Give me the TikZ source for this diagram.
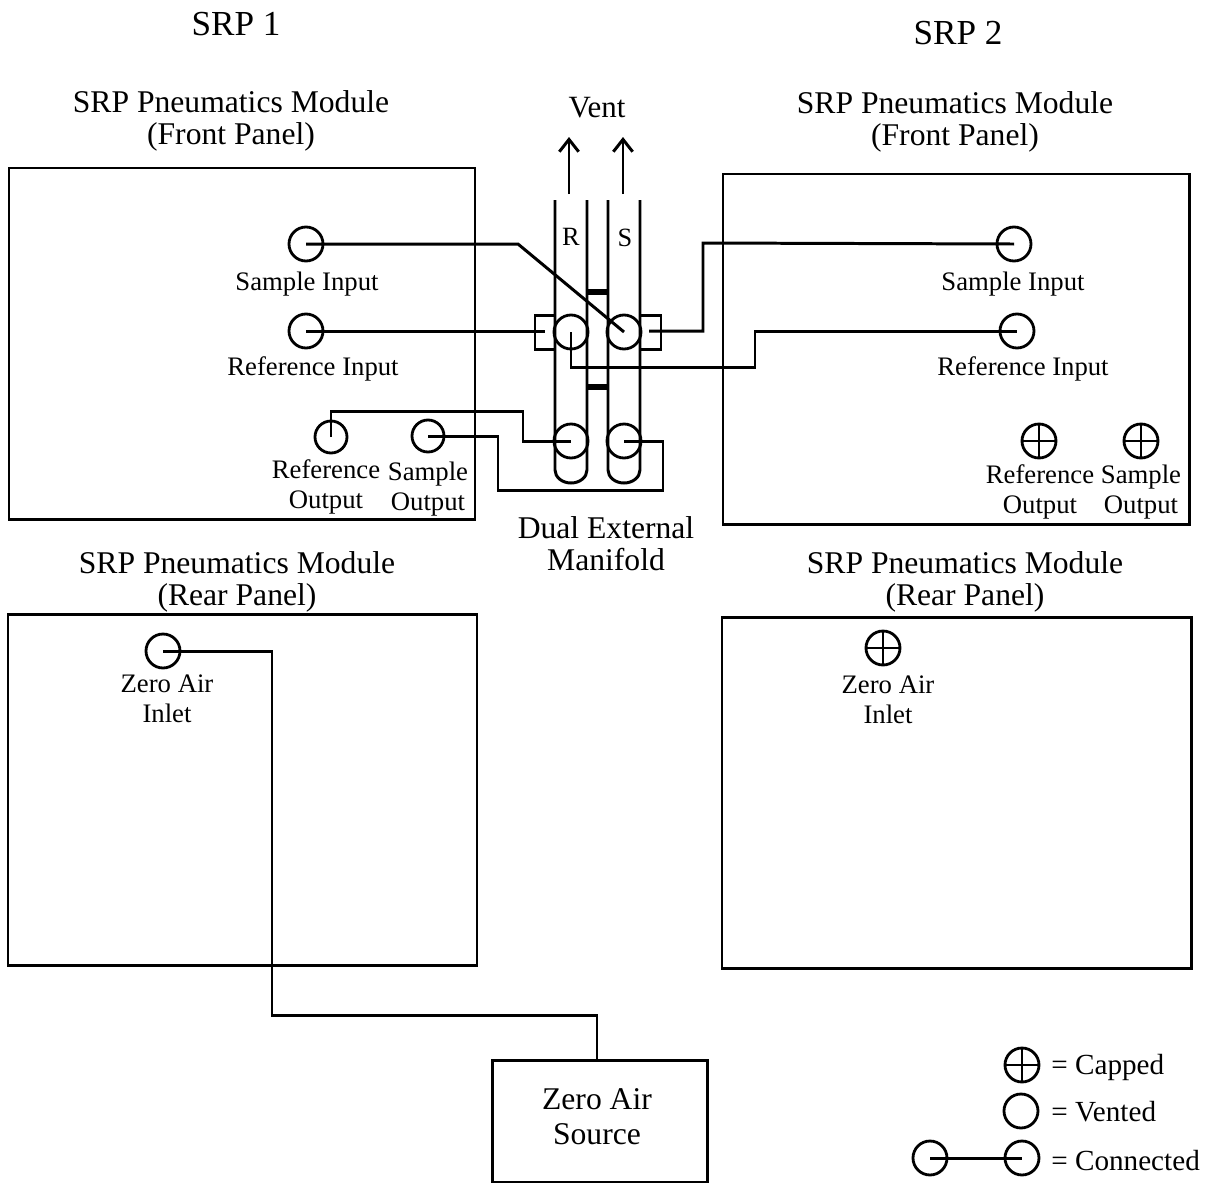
\documentclass[tikz,border=0pt]{standalone}
\usepackage{fontspec}
\setmainfont{Liberation Serif}
\usepackage{tikz}
\usetikzlibrary{arrows.meta}
\tikzset{
    linea/.style={line width=1.7pt, color=black},
    tubo/.style={linea, line join=miter},
    port/.style={circle, draw, line width=1.6pt, minimum size=0.68cm, inner sep=0pt},
    capped/.style={port, path picture={
        \draw[line width=1.6pt] (path picture bounding box.north) -- (path picture bounding box.south);
        \draw[line width=1.6pt] (path picture bounding box.west) -- (path picture bounding box.east);}},
    titolo/.style={align=center, font=\fontsize{18}{18.2}\selectfont, inner sep=0pt},
    grande/.style={align=center, font=\fontsize{20}{22}\selectfont, inner sep=0pt},
    piccolo/.style={align=center, font=\fontsize{15.2}{16.8}\selectfont, inner sep=0pt},
    legenda/.style={anchor=west, font=\fontsize{16.6}{18}\selectfont, inner sep=0pt},
}
\begin{document}
\begin{tikzpicture}[x=0.02cm, y=-0.02cm]
        \useasboundingbox (0,0) rectangle (1205,1184);
        % Pannelli
        \foreach \xa/\ya/\xb/\yb in {9/168/475/519, 723/174/1189/524, 8/614/477/965, 722/617/1191/968} {
                \draw[linea] (\xa,\ya) rectangle (\xb,\yb);
            }
        % Titoli
        \node[grande] (srpuno) at (236,24) {SRP 1};
        \node[grande] (srpdue) at (958,33) {SRP 2};
        \node[titolo] (frontuno) at (231,121) {SRP Pneumatics Module\\(Front Panel)};
        \node[titolo] (frontdue) at (955,122) {SRP Pneumatics Module\\(Front Panel)};
        \node[titolo] (rearuno) at (237,582) {SRP Pneumatics Module\\(Rear Panel)};
        \node[titolo] (reardue) at (965,582) {SRP Pneumatics Module\\(Rear Panel)};
        % Manifold: tubi R e S
        \foreach \xa in {555,608} {
                \draw[tubo] (\xa,200) -- (\xa,470) arc[start angle=180, end angle=0, x radius=16, y radius=13] -- (\xa+32,200);
            }
        \draw[line width=3pt] (587,292) -- (608,292);
        \draw[line width=3pt] (587,387) -- (608,387);
        \draw[linea] (555,315) -- (535,315) -- (535,349) -- (555,349);
        \draw[linea] (640,315) -- (661,315) -- (661,349) -- (640,349);
        \node[port] (manrin) at (571,332) {};
        \node[port] (mansin) at (624,332) {};
        \node[port] (manrout) at (571,441) {};
        \node[port] (mansout) at (624,441) {};
        \node[font=\fontsize{15}{16}\selectfont, inner sep=0pt] (tuboR) at (571,237) {R};
        \node[font=\fontsize{15}{16}\selectfont, inner sep=0pt] (tuboS) at (625,238) {S};
        \node[titolo] (manifold) at (606,544) {Dual External\\Manifold};
        \node[font=\fontsize{17.6}{18}\selectfont, inner sep=0pt] (vent) at (597,108) {Vent};
        % Uscite del vent
        \coordinate (ventRa) at (569,194);
        \coordinate (ventRb) at (569,137);
        \coordinate (ventSa) at (623,194);
        \coordinate (ventSb) at (623,137);
        \draw[linea, -{Straight Barb[length=7pt, width=11pt]}] (ventRa) -- (ventRb);
        \draw[linea, -{Straight Barb[length=7pt, width=11pt]}] (ventSa) -- (ventSb);
        % SRP 1, pannello frontale
        \node[port] (sinuno) at (306,244) {};
        \node[port] (rinuno) at (306,331) {};
        \node[port, minimum size=0.64cm] (routuno) at (331,437) {};
        \node[port, minimum size=0.64cm] (soutuno) at (428,436) {};
        \node[piccolo] (lsinuno) at (307,284) {Sample Input};
        \node[piccolo] (lrinuno) at (313,369) {Reference Input};
        \node[piccolo] (lroutuno) at (326,487) {Reference\\Output};
        \node[piccolo] (lsoutuno) at (428,489) {Sample\\Output};
        % SRP 2, pannello frontale
        \node[port] (sindue) at (1014,244) {};
        \node[port] (rindue) at (1017,331) {};
        \node[capped] (routdue) at (1039,441) {};
        \node[capped] (soutdue) at (1141,441) {};
        \node[piccolo] (lsindue) at (1013,284) {Sample Input};
        \node[piccolo] (lrindue) at (1023,369) {Reference Input};
        \node[piccolo] (lroutdue) at (1040,492) {Reference\\Output};
        \node[piccolo] (lsoutdue) at (1141,492) {Sample\\Output};
        % Pannelli posteriori
        \node[port] (zerouno) at (163,651) {};
        \node[capped] (zerodue) at (883,648) {};
        \node[piccolo] (lzerouno) at (167,699) {Zero Air\\Inlet};
        \node[piccolo] (lzerodue) at (888,700) {Zero Air\\Inlet};
        % Sorgente
        \node[draw, linea, minimum width=4.32cm, minimum height=2.44cm, inner sep=0pt] (source) at (600,1121) {};
        \node[align=center, font=\fontsize{18}{20}\selectfont, inner sep=0pt] (tsource) at (597,1117) {Zero Air\\Source};
        % Collegamenti
        \coordinate (rcollare) at (545,331);
        \coordinate (scollare) at (649,331);
        \draw[linea] (sinuno.center) -- (518,244) -- (mansin.center);
        \draw[linea] (rinuno.center) -- (rcollare);
        \draw[linea] (scollare) -- (703,331) -- (703,243) -- (sindue.center);
        \draw[linea] (manrin.center) -- (571,367) -- (755,367) -- (755,331) -- (rindue.center);
        \draw[linea] (routuno.center) -- (331,411) -- (523,411) -- (523,441) -- (manrout.center);
        \draw[linea] (soutuno.center) -- (498,436) -- (498,490) -- (663,490) -- (663,441) -- (mansout.center);
        \draw[linea] (zerouno.center) -- (272,651) -- (272,1015) -- (597,1015) -- (597,1015 |- source.north);
        % Legenda
        \node[capped] (legcap) at (1022,1065) {};
        \node[port] (legven) at (1021,1111) {};
        \node[port] (legcona) at (930,1158) {};
        \node[port] (legconb) at (1022,1158) {};
        \draw[linea] (legcona.center) -- (legconb.center);
        \node[legenda] (tcap) at (1051,1067) {= Capped};
        \node[legenda] (tven) at (1051,1112) {= Vented};
        \node[legenda] (tcon) at (1051,1161) {= Connected};
    \end{tikzpicture}
\end{document}
